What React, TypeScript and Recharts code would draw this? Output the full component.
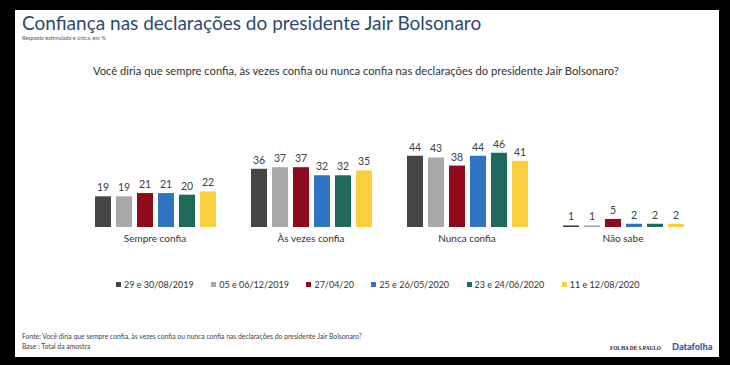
import React from "react";
import { BarChart, Bar, XAxis, YAxis, LabelList } from "recharts";

const categories = ["Sempre confia", "Às vezes confia", "Nunca confia", "Não sabe"];
const seriesNames = [
  "29 e 30/08/2019",
  "05 e 06/12/2019",
  "27/04/20",
  "25 e 26/05/2020",
  "23 e 24/06/2020",
  "11 e 12/08/2020",
];
const s1 = [19, 36, 44, 1];
const s2 = [19, 37, 43, 1];
const s3 = [21, 37, 38, 5];
const s4 = [21, 32, 44, 2];
const s5 = [20, 32, 46, 2];
const s6 = [22, 35, 41, 2];
const seriesValues = [s1, s2, s3, s4, s5, s6];
const colors = ["#454545", "#a9a9a9", "#8e0a1c", "#2f74c0", "#1f6a5a", "#f7cf3f"];

const data = categories.map((c, i) => {
  const row: Record<string, string | number> = { name: c };
  seriesValues.forEach((s, k) => {
    row["s" + k] = s[i];
  });
  return row;
});

const FONT = "Lato, 'Open Sans', sans-serif";

export default function App() {
  return (
    <div
      style={{
        position: "absolute",
        left: 0,
        top: 0,
        width: 730,
        height: 365,
        background: "#000",
        overflow: "hidden",
        fontFamily: FONT,
      }}
    >
      <div
        style={{
          position: "absolute",
          left: 15,
          top: 10,
          width: 704,
          height: 347,
          background: "#fff",
        }}
      />
      <div
        style={{
          position: "absolute",
          left: 22,
          top: 11,
          fontSize: 19,
          color: "#2c4a6e",
          whiteSpace: "nowrap",
        }}
      >
        Confiança nas declarações do presidente Jair Bolsonaro
      </div>
      <div
        style={{
          position: "absolute",
          left: 22,
          top: 35,
          fontSize: 5.5,
          color: "#555",
          whiteSpace: "nowrap",
        }}
      >
        Resposta estimulada e única, em %
      </div>
      <div
        style={{
          position: "absolute",
          left: 93,
          top: 64,
          fontSize: 11.2,
          color: "#333",
          whiteSpace: "nowrap",
        }}
      >
        Você diria que sempre confia, às vezes confia ou nunca confia nas declarações do presidente Jair Bolsonaro?
      </div>
      <div style={{ position: "absolute", left: 0, top: 0 }}>
        <BarChart
          width={730}
          height={365}
          data={data}
          margin={{ top: 130, right: 29, left: 77, bottom: 108 }}
          barSize={16}
          barGap={5}
        >
          <XAxis
            dataKey="name"
            axisLine={false}
            tickLine={false}
            tick={{ fontSize: 10, fill: "#333", fontFamily: FONT }}
            interval={0}
          />
          <YAxis hide domain={[0, 60]} />
          {seriesValues.map((_, k) => (
            <Bar key={k} dataKey={"s" + k} fill={colors[k]} isAnimationActive={false}>
              <LabelList
                dataKey={"s" + k}
                position="top"
                offset={5}
                style={{ fontSize: 10.5, fill: "#404040", fontFamily: FONT }}
              />
            </Bar>
          ))}
        </BarChart>
      </div>
      <div
        style={{
          position: "absolute",
          left: 116,
          top: 279,
          display: "flex",
          gap: 17.5,
          fontSize: 9,
          color: "#333",
          whiteSpace: "nowrap",
        }}
      >
        {seriesNames.map((n, k) => (
          <div key={k} style={{ display: "flex", alignItems: "center" }}>
            <span
              style={{
                display: "inline-block",
                width: 5,
                height: 5,
                background: colors[k],
                marginRight: 3,
              }}
            />
            {n}
          </div>
        ))}
      </div>
      <div
        style={{
          position: "absolute",
          left: 22,
          top: 332,
          fontSize: 6.8,
          color: "#444",
          lineHeight: "9.5px",
          whiteSpace: "nowrap",
        }}
      >
        <div>Fonte: Você diria que sempre confia, às vezes confia ou nunca confia nas declarações do presidente Jair Bolsonaro?</div>
        <div>Base : Total da amostra</div>
      </div>
      <div
        style={{
          position: "absolute",
          left: 610,
          top: 345,
          fontSize: 5.3,
          fontFamily: "'Liberation Serif', serif",
          fontWeight: "bold",
          color: "#222",
          whiteSpace: "nowrap",
        }}
      >
        FOLHA DE S.PAULO
      </div>
      <div
        style={{
          position: "absolute",
          left: 672,
          top: 341,
          fontSize: 9.2,
          fontWeight: 900,
          color: "#2a62a8",
          whiteSpace: "nowrap",
        }}
      >
        Datafolha
      </div>
    </div>
  );
}
